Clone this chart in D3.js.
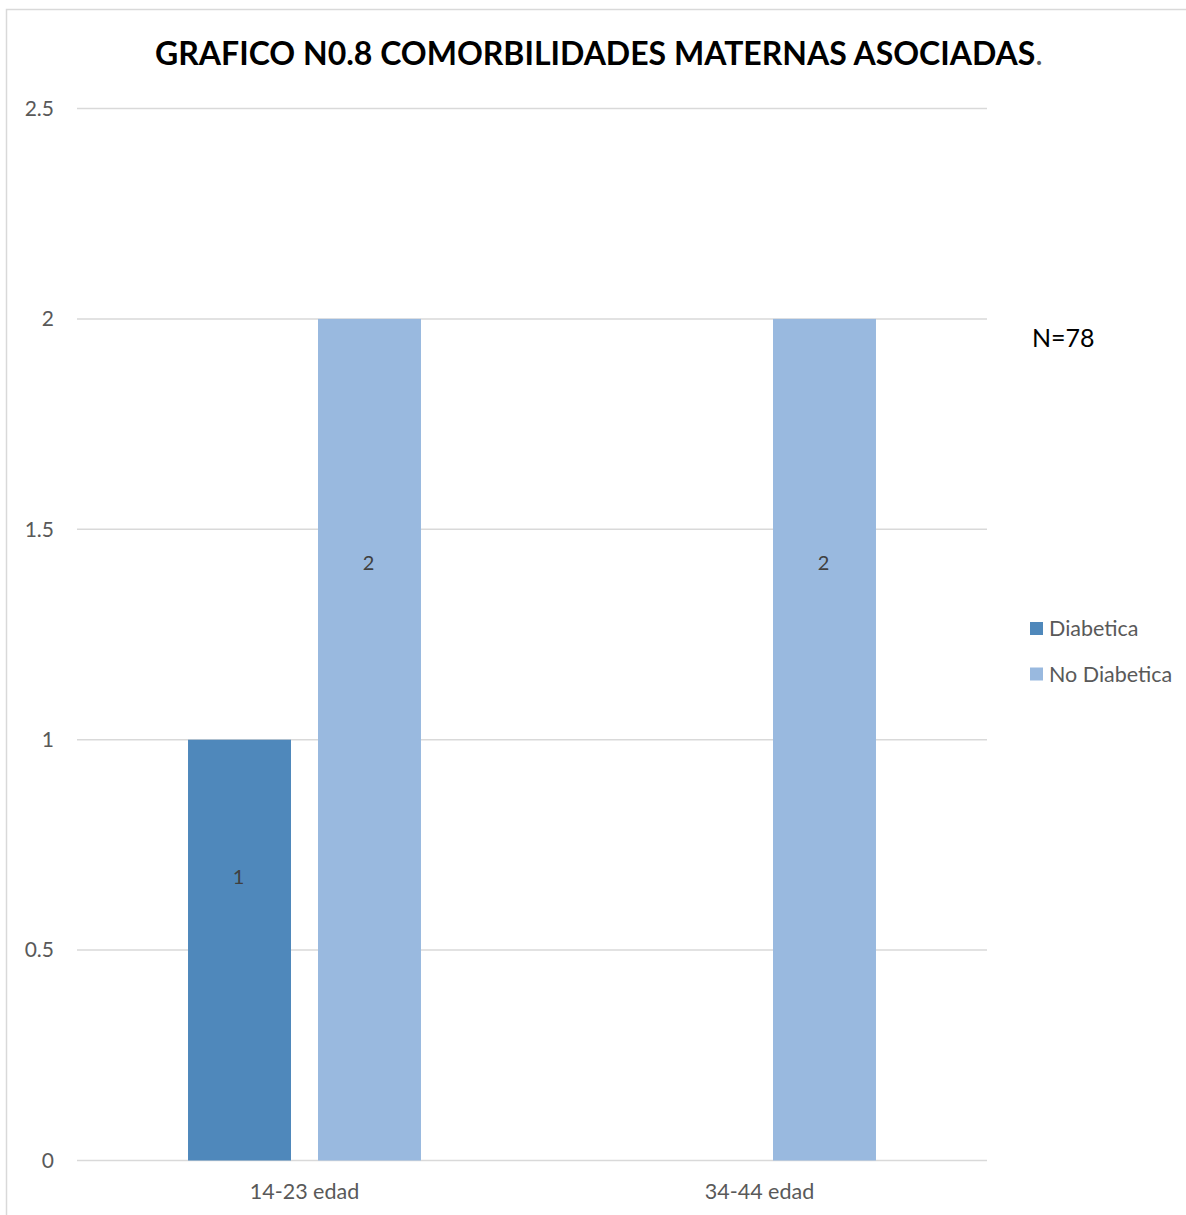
<!DOCTYPE html>
<html>
<head>
<meta charset="utf-8">
<script src="https://cdn.jsdelivr.net/npm/d3@7"></script>
<style>
  body { margin: 0; background: #fff; }
  text { font-family: Lato, "Open Sans", sans-serif; }
</style>
</head>
<body>
<script>
// data
var categories = ["14-23 edad", "34-44 edad"];
var series = ["Diabetica", "No Diabetica"];
var diabetica = [1, 0];
var noDiabetica = [2, 2];
// where excel put the value labels (in axis units)
var diabeticaLabelAt = [0.673, null];
var noDiabeticaLabelAt = [1.42, 1.42];
var yTicks = [0, 0.5, 1, 1.5, 2, 2.5];
var colors = ["#4F88BB", "#99B9DF"];

var W = 1186, H = 1215;

var svg = d3.select("body").append("svg")
    .attr("width", W)
    .attr("height", H);

// chart border (runs off the right and bottom edges)
svg.append("rect")
  .attr("x", 6.5).attr("y", 9.5)
  .attr("width", W + 20).attr("height", H + 20)
  .style("fill", "white")
  .style("stroke", "#D9D9D9")
  .style("stroke-width", 1.5)

var x0 = d3.scaleBand()
    .domain(categories)
    .range([77, 987])
    .paddingInner(0.488)
    .paddingOuter(0.244);

var x1 = d3.scaleBand()
    .domain(series)
    .range([0, x0.bandwidth()])
    .paddingInner(0.2077);

var y = d3.scaleLinear()
    .domain([0, 2.5])
    .range([1160.5, 108.5]);

// gridlines
svg.append("g")
  .selectAll("line")
  .data(yTicks)
  .enter()
  .append("line")
    .attr("x1", 77).attr("x2", 987)
    .attr("y1", d => y(d)).attr("y2", d => y(d))
    .style("stroke", "#D9D9D9")
    .style("stroke-width", 1.5)

// y tick labels
var yAxis = svg.append("g")
  .attr("transform", "translate(54,0)")
  .call(d3.axisLeft(y).tickValues(yTicks).tickSize(0).tickPadding(0).tickFormat(d3.format("")))
yAxis.select(".domain").remove()
yAxis.selectAll("text")
  .attr("font-family", "Lato, sans-serif")
  .attr("font-size", "21px")
  .attr("fill", "#595959")

// x labels
var xAxis = svg.append("g")
  .attr("transform", "translate(0,1160.5)")
  .call(d3.axisBottom(x0).tickSize(0).tickPadding(23))
xAxis.select(".domain").remove()
xAxis.selectAll("text")
  .attr("font-family", "Lato, sans-serif")
  .attr("font-size", "21.5px")
  .attr("fill", "#595959")

// bars
var rows = categories.map((c, i) => ({
  cat: c,
  vals: [
    {s: series[0], v: diabetica[i], at: diabeticaLabelAt[i]},
    {s: series[1], v: noDiabetica[i], at: noDiabeticaLabelAt[i]}
  ]
}));

var groups = svg.append("g").selectAll("g")
  .data(rows)
  .enter()
  .append("g")
  .attr("transform", d => "translate(" + x0(d.cat) + ",0)")

groups.selectAll("rect")
  .data(d => d.vals.filter(e => e.v > 0))
  .enter()
  .append("rect")
    .attr("x", d => x1(d.s))
    .attr("y", d => y(d.v))
    .attr("width", x1.bandwidth())
    .attr("height", d => y(0) - y(d.v))
    .style("fill", d => colors[series.indexOf(d.s)])

groups.selectAll(".lbl")
  .data(d => d.vals.filter(e => e.v > 0))
  .enter()
  .append("text")
    .attr("class", "lbl")
    .attr("x", d => x1(d.s) + x1.bandwidth() / 2 - 1)
    .attr("y", d => y(d.at))
    .attr("dy", "0.35em")
    .attr("text-anchor", "middle")
    .attr("font-size", "20px")
    .attr("fill", "#404040")
    .text(d => d.v)

// title
var title = svg.append("text")
  .attr("x", 599)
  .attr("y", 65)
  .attr("text-anchor", "middle")
  .attr("font-size", "32px")
  .attr("font-weight", "bold")
  .attr("fill", "black")
title.append("tspan").text("GRAFICO N0.8 COMORBILIDADES MATERNAS ASOCIADAS")
title.append("tspan").attr("font-weight", "normal").attr("fill", "#595959").text(".")

// N
svg.append("text")
  .attr("x", 1032).attr("y", 347)
  .attr("font-size", "25px")
  .attr("fill", "black")
  .text("N=78")

// legend
var legend = svg.append("g").attr("transform", "translate(1030,622)")
var li = legend.selectAll("g")
  .data(series)
  .enter()
  .append("g")
  .attr("transform", (d, i) => "translate(0," + i * 45.5 + ")")
li.append("rect")
  .attr("width", 13).attr("height", 13)
  .style("fill", (d, i) => colors[i])
li.append("text")
  .attr("x", 19).attr("y", 6.5)
  .attr("dy", "0.35em")
  .attr("font-size", "21.5px")
  .attr("fill", "#595959")
  .text(d => d)
</script>
</body>
</html>
